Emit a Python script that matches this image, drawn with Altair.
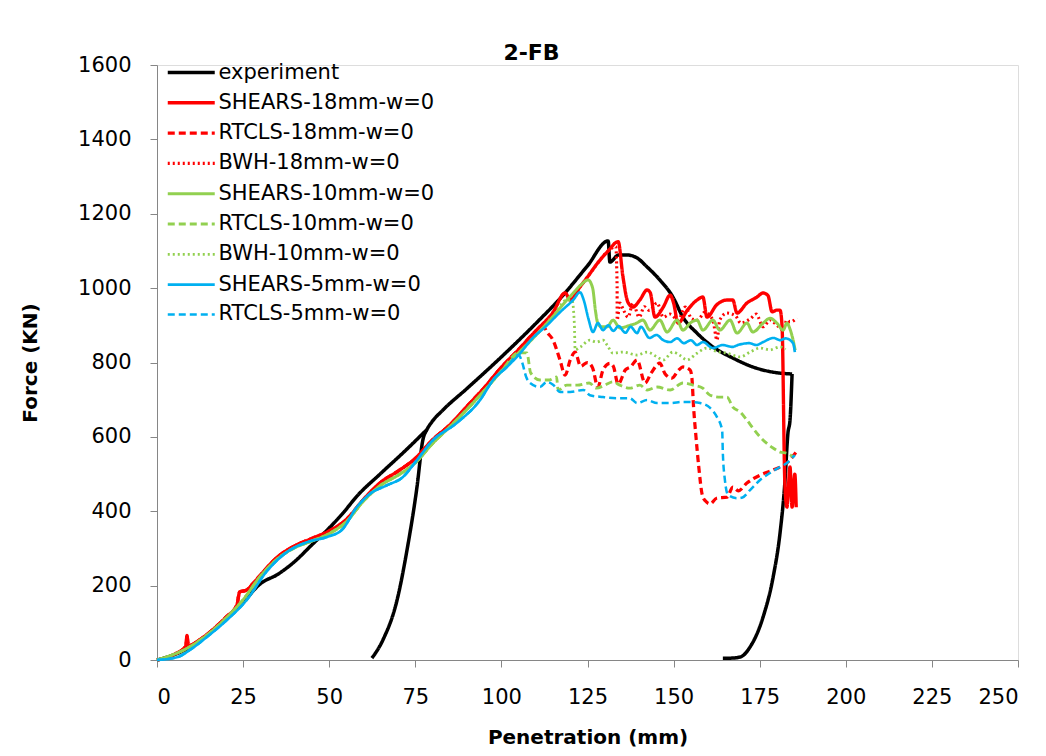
import altair as alt
import pandas as pd

SERIES = ["experiment", "SHEARS-18mm-w=0", "RTCLS-18mm-w=0", "BWH-18mm-w=0",
          "SHEARS-10mm-w=0", "RTCLS-10mm-w=0", "BWH-10mm-w=0",
          "SHEARS-5mm-w=0", "RTCLS-5mm-w=0"]
COLORS = ["#000000", "#FF0000", "#FF0000", "#FF0000",
          "#92D050", "#92D050", "#92D050", "#00B0F0", "#00B0F0"]
DASHES = [[1, 0], [1, 0], [7, 4], [2, 3], [1, 0], [7, 4], [2, 3], [1, 0], [7, 4]]
WIDTHS = [3.5, 2.5, 2.5, 2.5, 2.5, 2.5, 2.5, 2.5, 2.5]

X_TICKS = [0, 25, 50, 75, 100, 125, 150, 175, 200, 225, 250]
Y_TICKS = [0, 200, 400, 600, 800, 1000, 1200, 1400, 1600]

# experiment: first loading, reloading/main branch, final unloading
expA_x = [0, 8.7, 15, 20, 25, 30, 35, 40, 45, 50, 54, 58, 65, 72, 78.4]
expA_y = [0, 30, 70, 110, 155, 205, 230, 265, 310, 355, 395, 440, 502, 562, 620]
expB_x = [62.4, 65.6, 69.7, 72.6, 75.5, 77.2, 78.4, 79.8, 83, 90, 100, 110, 118, 125, 131,
          131.5, 134, 136.5, 139.4, 142.3, 146, 149.8, 152.7, 156.8, 161.4, 167.2, 173,
          178.9, 184.4]
expB_y = [5, 54, 161, 296, 466, 592, 620, 640, 672, 730, 815, 905, 982, 1060, 1127,
          1070, 1089, 1089, 1081, 1057, 1022, 976, 922, 879, 842, 812, 788,
          774, 769]
expC_x = [164.3, 166.5, 169.3, 172.2, 176, 178.9, 180.9, 182.3, 183.2, 183.8, 184.4]
expC_y = [5, 5, 8, 35, 116, 223, 341, 476, 610, 645, 769]

red_pre_x = [0, 5, 8.4, 8.7, 9.1, 12, 16, 20, 23.2, 24, 26, 28, 30, 35, 40, 45, 50,
             55, 60, 65, 70, 75, 80, 85, 90, 95, 100, 105, 110]
red_pre_y = [0, 15, 38, 66, 38, 52, 80, 115, 148, 183, 188, 207, 228, 277, 307, 327, 347,
             378, 432, 478, 508, 542, 592, 632, 682, 732, 787, 835, 885]

shears18_x = red_pre_x + [115, 118.5, 120, 122.8, 125, 128, 131, 133.9,
                          135.3, 136.7, 138.2, 140.2, 142.3, 143.2, 144.6, 147, 149, 150,
                          151.3, 154, 156.8, 158.5, 159.7, 162.5, 165.5, 167.2, 168.4,
                          171.3, 174.2, 176, 177.4, 178.6, 180, 180.9, 181.5, 182.3, 182.9,
                          183.8, 184.4, 185.2, 185.6]
shears18_y = red_pre_y + [935, 987, 968, 1003, 1030, 1068, 1100, 1125,
                          1030, 963, 949, 968, 995, 988, 922, 949, 981, 960,
                          906, 941, 968, 976, 922, 955, 968, 968, 933,
                          960, 976, 987, 980, 936, 941, 941, 896, 476, 411,
                          519, 411, 500, 411]

rtcls18_x = red_pre_x + [112, 113.2, 115, 117, 118.5, 120, 121.4, 123, 125, 126.5, 128,
                         129.5, 131.5, 132.5, 133.9, 136, 137.5, 139.4, 141.7, 143.5, 146,
                         147.5, 149.5, 151.5, 152.7, 154.8, 155.3, 155.8, 156.5, 157.3,
                         158.3, 159.2, 160.6, 162.5, 165.5, 167.2, 168.8, 171.3, 175.1,
                         178.9, 182.9, 185.5]
rtcls18_y = red_pre_y + [900, 882, 860, 807, 766, 807, 828, 790, 800, 785, 734,
                         780, 798, 790, 742, 780, 788, 807, 745, 772, 798,
                         770, 758, 780, 788, 780, 760, 680, 600, 520,
                         445, 428, 420, 435, 438, 465, 455, 476, 497,
                         511, 530, 558]

bwh18_x = red_pre_x + [115, 118.5, 120, 122.8, 125, 128, 131, 133.2, 133.6, 133.6,
                       134.4, 135.5, 136.8, 138.2, 140, 141.5, 143, 145.2, 147, 149,
                       151.3, 153.4, 155.3, 157, 159, 161.4, 162.6, 163.4, 165.5, 168,
                       169.5, 172.2, 174, 176, 178, 180, 181.8, 182.9, 183.8, 185.8]
bwh18_y = red_pre_y + [935, 987, 968, 1003, 1030, 1068, 1100, 1112, 1000, 914,
                       960, 940, 922, 960, 922, 950, 940, 960, 922, 930,
                       914, 949, 917, 914, 935, 914, 860, 914, 933, 925,
                       906, 917, 930, 896, 914, 900, 887, 914, 909, 920]

green_pre_x = [0, 10, 20, 25, 30, 35, 40, 45, 50, 55, 60, 65, 70, 75, 80, 85, 90,
               95, 100, 105]
green_pre_y = [0, 38, 112, 162, 225, 272, 302, 320, 340, 372, 428, 470, 497, 530, 582,
               627, 674, 724, 777, 826]

shears10_x = green_pre_x + [110, 115, 119, 121, 123, 125.2, 126.5, 127.3, 128, 129,
                            130.7, 132.4, 134.4, 137.3, 139, 141.1, 143.1, 146, 148.1,
                            151, 152.7, 154.8, 156.8, 158.5, 161.4, 163.4, 166.4, 168.4,
                            171.3, 173, 176, 178, 180, 181.8, 182.9, 183.8, 184.7, 185.3]
shears10_y = green_pre_y + [873, 924, 968, 988, 1008, 1022, 1000, 940, 905, 896,
                            896, 914, 893, 900, 905, 914, 887, 914, 882,
                            914, 887, 906, 914, 887, 914, 887, 914, 879,
                            906, 882, 906, 919, 906, 887, 906, 890, 860, 833]

rtcls10_x = green_pre_x + [107.4, 108.5, 111.2, 114, 116, 116.5, 119, 122, 125.5,
                           127.6, 130, 132.4, 134.4, 137.3, 140.2, 142.3, 145.2, 149,
                           152.7, 155.7, 158.5, 160.6, 163.5, 165.5, 167.2, 169.3, 171.3,
                           173, 175.1, 177, 178.9, 180.9, 182.9, 184.7]
rtcls10_y = green_pre_y + [826, 772, 753, 753, 761, 726, 739, 739, 745,
                           731, 739, 748, 739, 731, 739, 726, 734, 726,
                           745, 739, 731, 712, 707, 707, 680, 667, 645,
                           624, 600, 583, 570, 559, 556, 546]

bwh10_x = green_pre_x + [110, 115, 119, 120.5, 121.2, 121.4, 123, 125.7, 127.6, 129.5,
                         130.7, 132.4, 135.3, 139.4, 142.3, 145.2, 147, 149.8, 152,
                         153.9, 156.8, 159.7, 162.5, 165.5, 169.3, 172.2, 175.1, 178,
                         180.9, 182.5]
bwh10_y = green_pre_y + [873, 924, 968, 968, 900, 834, 842, 860, 855, 860,
                         847, 825, 828, 820, 828, 815, 807, 828, 818,
                         807, 825, 839, 830, 825, 815, 828, 839, 834,
                         842, 835]

blue_pre_x = [0, 6, 10, 14.5, 20, 26, 32, 37.7, 43.6, 49.4, 53.7, 58, 62, 66.8,
              71.4, 75.5, 80, 87, 93.8, 97.6, 101.6, 105]
blue_pre_y = [0, 8, 30, 62, 105, 161, 240, 290, 317, 331, 350, 411, 448, 470,
              492, 538, 590, 637, 699, 753, 788, 820]

shears5_x = blue_pre_x + [109, 113, 117, 121, 122.8, 124, 125.2, 126.6, 128, 129.5,
                          131, 132.5, 134, 136, 137.5, 139.4, 140.5, 143, 145, 147,
                          149, 151, 153, 155, 156.8, 158.5, 161.4, 164.3, 167, 169,
                          172, 174, 176, 179, 181, 182.5, 184.7, 185.2]
shears5_y = blue_pre_y + [865, 898, 935, 970, 989, 965, 920, 882, 906, 887,
                          900, 885, 898, 880, 896, 879, 896, 866, 874, 860,
                          855, 865, 852, 860, 847, 855, 839, 847, 842, 848,
                          852, 847, 855, 866, 860, 865, 852, 828]

rtcls5_x = blue_pre_x + [106, 107.2, 108.3, 111.2, 113.2, 115, 117, 120, 123.8, 125.7,
                         129.5, 133.6, 137.3, 139.4, 142.3, 145.2, 149, 152.7, 154.8,
                         157.7, 160.6, 162.6, 164.1, 164.3, 164.9, 165.8, 168.4, 170,
                         172.2, 175.1, 178, 180.9, 182.9, 185.2]
rtcls5_y = blue_pre_y + [801, 761, 745, 734, 748, 740, 721, 721, 726, 712,
                         707, 704, 704, 691, 699, 691, 691, 694, 694,
                         691, 678, 653, 618, 556, 484, 444, 435, 437,
                         457, 484, 503, 519, 530, 551]

segments = [
    ("experiment", "a", expA_x, expA_y),
    ("experiment", "b", expB_x, expB_y),
    ("experiment", "c", expC_x, expC_y),
    ("SHEARS-18mm-w=0", "a", shears18_x, shears18_y),
    ("RTCLS-18mm-w=0", "a", rtcls18_x, rtcls18_y),
    ("BWH-18mm-w=0", "a", bwh18_x, bwh18_y),
    ("SHEARS-10mm-w=0", "a", shears10_x, shears10_y),
    ("RTCLS-10mm-w=0", "a", rtcls10_x, rtcls10_y),
    ("BWH-10mm-w=0", "a", bwh10_x, bwh10_y),
    ("SHEARS-5mm-w=0", "a", shears5_x, shears5_y),
    ("RTCLS-5mm-w=0", "a", rtcls5_x, rtcls5_y),
]

rows = []
for name, seg, xs, ys in segments:
    for i, (xv, yv) in enumerate(zip(xs, ys)):
        rows.append({"series": name, "seg": seg, "x": xv, "y": yv, "i": i})
df = pd.DataFrame(rows)

FONT = "DejaVu Sans"
legend = alt.Legend(
    title=None, orient="none", legendX=32.5, legendY=-6,
    symbolType="M-3,0H1", symbolSize=552,
    labelFontSize=21, labelFont=FONT, labelColor="#000000",
    rowPadding=6.3, labelOffset=2, padding=0, labelLimit=400,
)

chart = alt.Chart(df).mark_line(interpolate="monotone").encode(
    x=alt.X("x:Q", scale=alt.Scale(domain=[0, 250], nice=False, zero=False),
            axis=alt.Axis(values=X_TICKS, title="Penetration (mm)", grid=False,
                          labelFontSize=21, labelFont=FONT, labelColor="#000000",
                          titleFontSize=20, titleFont=FONT, titleFontWeight="bold",
                          titleColor="#000000", domainColor="#868686",
                          tickColor="#868686", tickSize=7, labelPadding=19,
                          titlePadding=20)),
    y=alt.Y("y:Q", scale=alt.Scale(domain=[0, 1600], nice=False),
            axis=alt.Axis(values=Y_TICKS, format="d", title="Force (KN)", grid=False,
                          labelFontSize=21, labelFont=FONT, labelColor="#000000",
                          titleFontSize=20, titleFont=FONT, titleFontWeight="bold",
                          titleColor="#000000", domainColor="#868686",
                          tickColor="#868686", tickSize=7, labelPadding=19,
                          titlePadding=37)),
    color=alt.Color("series:N", scale=alt.Scale(domain=SERIES, range=COLORS), legend=legend),
    strokeDash=alt.StrokeDash("series:N", scale=alt.Scale(domain=SERIES, range=DASHES), legend=legend),
    strokeWidth=alt.StrokeWidth("series:N", scale=alt.Scale(domain=SERIES, range=WIDTHS), legend=legend),
    detail="seg:N",
    order="i:Q",
).properties(
    width=861, height=595,
    title=alt.TitleParams("2-FB", fontSize=22, font=FONT, fontWeight="bold",
                          color="#000000", offset=-11, dx=-56),
    autosize=alt.AutoSizeParams(type="none"),
    padding={"left": 157, "top": 65, "right": 28, "bottom": 96},
).configure_view(stroke=None).configure(background="#ffffff")

chart.save("out.html", embed_options={"renderer": "svg", "actions": False})
